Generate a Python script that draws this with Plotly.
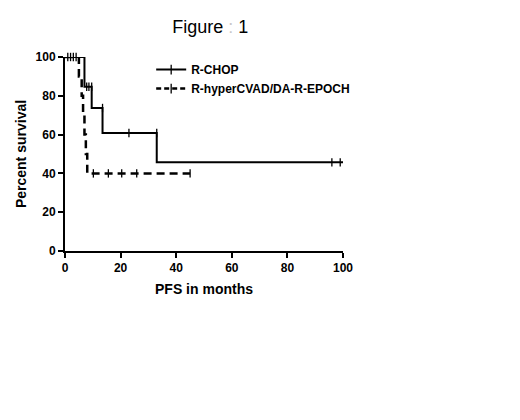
import plotly.graph_objects as go

# Kaplan-Meier steps (months, percent survival)
chop_t = [0, 7, 9.6, 13.5, 33, 100]
chop_s = [100, 84.7, 73.7, 60.8, 45.7, 45.7]
chop_cens_t = [1, 2, 3, 4, 7.8, 8.6, 9.6, 13.5, 23, 33, 96, 99]
chop_cens_s = [100, 100, 100, 100, 84.7, 84.7, 84.7, 73.7, 60.8, 60.8, 45.7, 45.7]

hyper_t = [0, 5, 6, 6.5, 7, 7.5, 8, 45]
hyper_s = [100, 90, 80, 70, 60, 50, 40, 40]
hyper_cens_t = [10.2, 15.6, 20.4, 25.8, 45]
hyper_cens_s = [40, 40, 40, 40, 40]

FONT = "Liberation Sans, Arial, sans-serif"

fig = go.Figure()

fig.add_trace(go.Scatter(x=chop_t, y=chop_s, mode="lines", line_shape="hv",
                         line=dict(color="black", width=2), showlegend=False, cliponaxis=False))
fig.add_trace(go.Scatter(x=chop_cens_t, y=chop_cens_s, mode="markers",
                         marker=dict(symbol="line-ns", size=6, line=dict(color="black", width=1.3)),
                         showlegend=False, cliponaxis=False))
fig.add_trace(go.Scatter(x=hyper_t, y=hyper_s, mode="lines", line_shape="hv",
                         line=dict(color="black", width=2.5, dash="8px,5px"), showlegend=False, cliponaxis=False))
fig.add_trace(go.Scatter(x=hyper_cens_t, y=hyper_cens_s, mode="markers",
                         marker=dict(symbol="line-ns", size=6, line=dict(color="black", width=1.3)),
                         showlegend=False, cliponaxis=False))

# legend entries
fig.add_trace(go.Scatter(x=[None], y=[None], mode="lines+markers", name="R-CHOP",
                         line=dict(color="black", width=2),
                         marker=dict(symbol="line-ns", size=7, line=dict(color="black", width=1.3))))
fig.add_trace(go.Scatter(x=[None], y=[None], mode="lines+markers", name="R-hyperCVAD/DA-R-EPOCH",
                         line=dict(color="black", width=2.5, dash="5px,3px"),
                         marker=dict(symbol="line-ns", size=7, line=dict(color="black", width=1.3))))

axis_style = dict(showline=True, linecolor="black", linewidth=2, ticks="outside", ticklen=5,
                  tickwidth=2, tickcolor="black", showgrid=False, zeroline=False, automargin=False,
                  tickfont=dict(family=FONT, size=12, color="black", weight="bold"))

fig.update_layout(
    width=520, height=420,
    paper_bgcolor="white", plot_bgcolor="white",
    margin=dict(l=57, r=185, t=49, b=177),
    title=dict(text="Figure<span style='color:#c8c8c8'> :</span> 1", x=0.389, xanchor="center",
               y=0.955, yanchor="middle",
               font=dict(family=FONT, size=18, color="black")),
    xaxis=dict(range=[0, 100], tickvals=[0, 20, 40, 60, 80, 100],
               title=dict(text="PFS in months", standoff=10,
                          font=dict(family=FONT, size=14, color="black", weight="bold")),
               **axis_style),
    yaxis=dict(range=[0, 100], tickvals=[0, 20, 40, 60, 80, 100],
               title=dict(text="Percent survival", standoff=6,
                          font=dict(family=FONT, size=14, color="black", weight="bold")),
               **axis_style),
    legend=dict(x=0.31, y=1.01, xanchor="left", yanchor="top", bgcolor="rgba(0,0,0,0)",
                font=dict(family=FONT, size=12, color="black", weight="bold"),
                itemwidth=30, tracegroupgap=6),
)

fig.write_html("out.html")
